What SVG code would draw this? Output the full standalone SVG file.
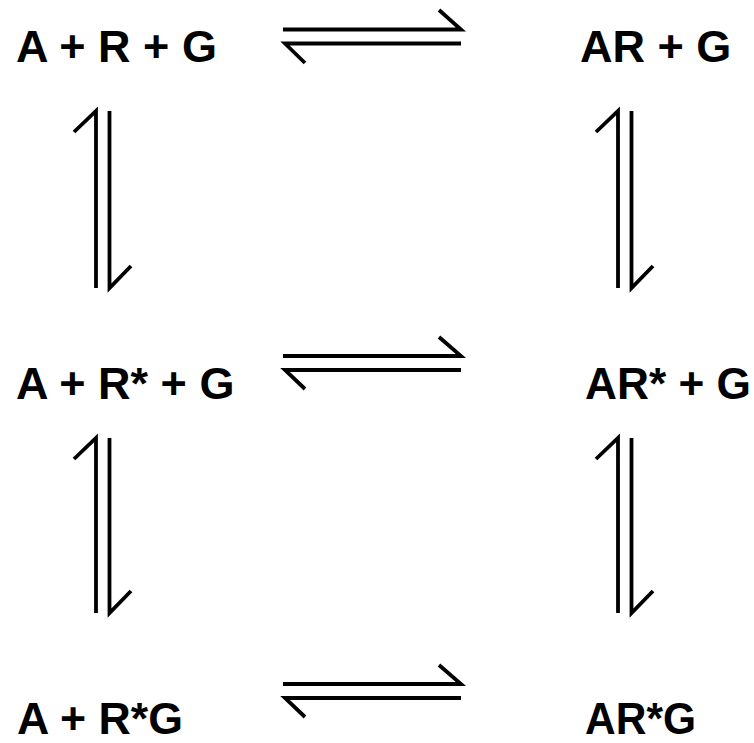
<svg xmlns="http://www.w3.org/2000/svg" width="754" height="743" viewBox="0 0 754 743">
<style>
.lbl{font-family:"Liberation Sans",Arial,sans-serif;font-weight:bold;font-size:45px;fill:#000}
.arr{fill:none;stroke:#000;stroke-width:3.8;stroke-linejoin:miter;stroke-linecap:butt}
</style>
<rect width="754" height="743" fill="#fff"/>
<g id="n-A-R-G"><text class="lbl" x="16" y="62">A + R + G</text></g>
<g id="n-AR-G"><text class="lbl" x="580" y="62">AR + G</text></g>
<g id="n-A-Rs-G"><text class="lbl" x="16" y="399">A + R* + G</text></g>
<g id="n-ARs-G"><text class="lbl" x="585" y="399" textLength="166" lengthAdjust="spacingAndGlyphs">AR* + G</text></g>
<g id="n-A-RsG"><text class="lbl" x="17" y="734" textLength="166" lengthAdjust="spacingAndGlyphs">A + R*G</text></g>
<g id="n-ARsG"><text class="lbl" x="585" y="734" textLength="111" lengthAdjust="spacingAndGlyphs">AR*G</text></g>
<g id="connectors">
  <path class="arr" d="M283,29.5 H461 L439,10"/>
  <path class="arr" d="M461,43.5 H285 L305,63"/>
  <path class="arr" d="M283,356 H461 L439,337"/>
  <path class="arr" d="M461,370 H285 L305,389"/>
  <path class="arr" d="M283,684 H461 L439,665"/>
  <path class="arr" d="M461,698 H285 L305,717"/>
  <path class="arr" d="M96,288 V111 L74,132"/>
  <path class="arr" d="M109.5,111 V288 L131,266"/>
  <path class="arr" d="M96,613 V438 L74,459"/>
  <path class="arr" d="M109.5,438 V613 L131,591"/>
  <path class="arr" d="M618,288 V111 L596,132"/>
  <path class="arr" d="M631.5,111 V288 L653,266"/>
  <path class="arr" d="M618,613 V438 L596,459"/>
  <path class="arr" d="M631.5,438 V613 L653,591"/>
</g>
</svg>
